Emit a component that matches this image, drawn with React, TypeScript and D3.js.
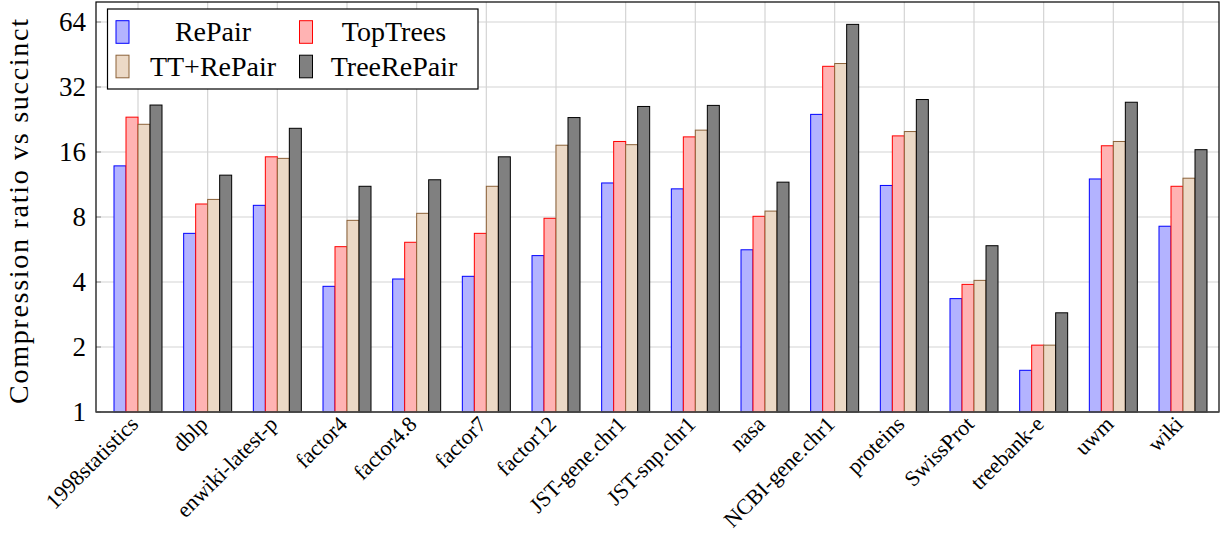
import React from "react";
import * as d3 from "d3";

const categories = [
  "1998statistics", "dblp", "enwiki-latest-p", "factor4", "factor4.8", "factor7",
  "factor12", "JST-gene.chr1", "JST-snp.chr1", "nasa", "NCBI-gene.chr1", "proteins",
  "SwissProt", "treebank-e", "uwm", "wiki",
];
const repair = [13.8, 6.72, 9.06, 3.82, 4.13, 4.25, 5.3, 11.5, 10.8, 5.64, 23.9, 11.2, 3.35, 1.56, 12.0, 7.25];
const topTrees = [23.2, 9.19, 15.2, 5.83, 6.11, 6.72, 7.89, 17.9, 18.8, 8.06, 39.9, 19.0, 3.9, 2.04, 17.1, 11.1];
const ttRepair = [21.5, 9.65, 14.95, 7.72, 8.32, 11.1, 17.2, 17.3, 20.2, 8.52, 41.1, 19.9, 4.07, 2.04, 17.9, 12.1];
const treeRepair = [26.4, 12.5, 20.6, 11.1, 11.9, 15.2, 23.1, 26.0, 26.3, 11.6, 62.4, 28.0, 5.89, 2.88, 27.2, 16.4];
const yTicks = [1, 2, 4, 8, 16, 32, 64];
const seriesNames = ["RePair", "TopTrees", "TT+RePair", "TreeRePair"];

const seriesStyle = [
  { fill: "#b3b3ff", stroke: "#0000ff" },
  { fill: "#ffb3b3", stroke: "#ff0000" },
  { fill: "#ecd9c6", stroke: "#8c6239" },
  { fill: "#808080", stroke: "#000000" },
];

const W = 1220;
const H = 533;
const left = 96;
const right = 1219;
const top = 2;
const bottom = 412;
const barW = 12;
const FONT = "'Liberation Serif', serif";
const txt = { fontFamily: FONT };

export default function App() {
  const series = [repair, topTrees, ttRepair, treeRepair];
  const x = d3.scalePoint<string>().domain(categories).range([138, 1183]);
  const y = d3.scaleLog().base(2).domain([1, 64]).range([bottom, 22]);

  return (
    <svg
      width={W}
      height={H}
      style={{ position: "absolute", left: 0, top: 0, background: "#fff" }}
    >
      {yTicks.map((t) => (
        <line key={"gy" + t} x1={left} x2={right} y1={y(t)} y2={y(t)} stroke="#d4d4d4" strokeWidth={1.2} />
      ))}
      {categories.map((c) => (
        <line key={"gx" + c} x1={x(c)} x2={x(c)} y1={top} y2={bottom} stroke="#d4d4d4" strokeWidth={1.2} />
      ))}
      {series.map((vals, si) =>
        vals.map((v, i) => {
          const cx = x(categories[i])! + (si - 2) * barW;
          return (
            <rect
              key={si + "-" + i}
              x={cx}
              y={y(v)}
              width={barW}
              height={bottom - y(v)}
              fill={seriesStyle[si].fill}
              stroke={seriesStyle[si].stroke}
              strokeWidth={1}
            />
          );
        })
      )}
      {yTicks.map((t) => (
        <g key={"ty" + t}>
          <line x1={left} x2={left + 5} y1={y(t)} y2={y(t)} stroke="#888" strokeWidth={1} />
          <text x={86} y={y(t)} dy="0.34em" textAnchor="end" fontSize={27} fill="#000" style={txt}>
            {t}
          </text>
        </g>
      ))}
      <rect x={left} y={top} width={right - left} height={bottom - top} fill="none" stroke="#000" strokeWidth={1.2} />
      <line x1={left} x2={right} y1={bottom} y2={bottom} stroke="#555" strokeWidth={1.5} />
      {categories.map((c) => {
        const ax = x(c)! - 4;
        const ay = bottom + 8;
        return (
          <text
            key={"xl" + c}
            x={ax}
            y={ay}
            dy="0.35em"
            textAnchor="end"
            fontSize={22}
            style={txt}
            transform={`rotate(-45, ${ax}, ${ay})`}
          >
            {c}
          </text>
        );
      })}
      <text
        x={0}
        y={0}
        transform={`translate(28, ${(19 + 404) / 2}) rotate(-90)`}
        textAnchor="middle"
        fontSize={28}
        style={txt}
        textLength={385}
        lengthAdjust="spacing"
      >
        Compression ratio vs succinct
      </text>
      <rect x={107.5} y={9} width={370.5} height={80} fill="#fff" stroke="#000" strokeWidth={1.2} />
      {seriesNames.map((name, i) => {
        const col = i % 2;
        const row = Math.floor(i / 2);
        const sx = col === 0 ? 116 : 299.5;
        const tx = col === 0 ? 213 : 394;
        const cy = 32 + row * 34.5;
        return (
          <g key={"lg" + name}>
            <rect
              x={sx}
              y={cy - 11.3}
              width={13}
              height={22.6}
              fill={seriesStyle[i].fill}
              stroke={seriesStyle[i].stroke}
              strokeWidth={1}
            />
            <text x={tx} y={cy + 9} textAnchor="middle" fontSize={28} style={txt}>
              {name}
            </text>
          </g>
        );
      })}
    </svg>
  );
}
